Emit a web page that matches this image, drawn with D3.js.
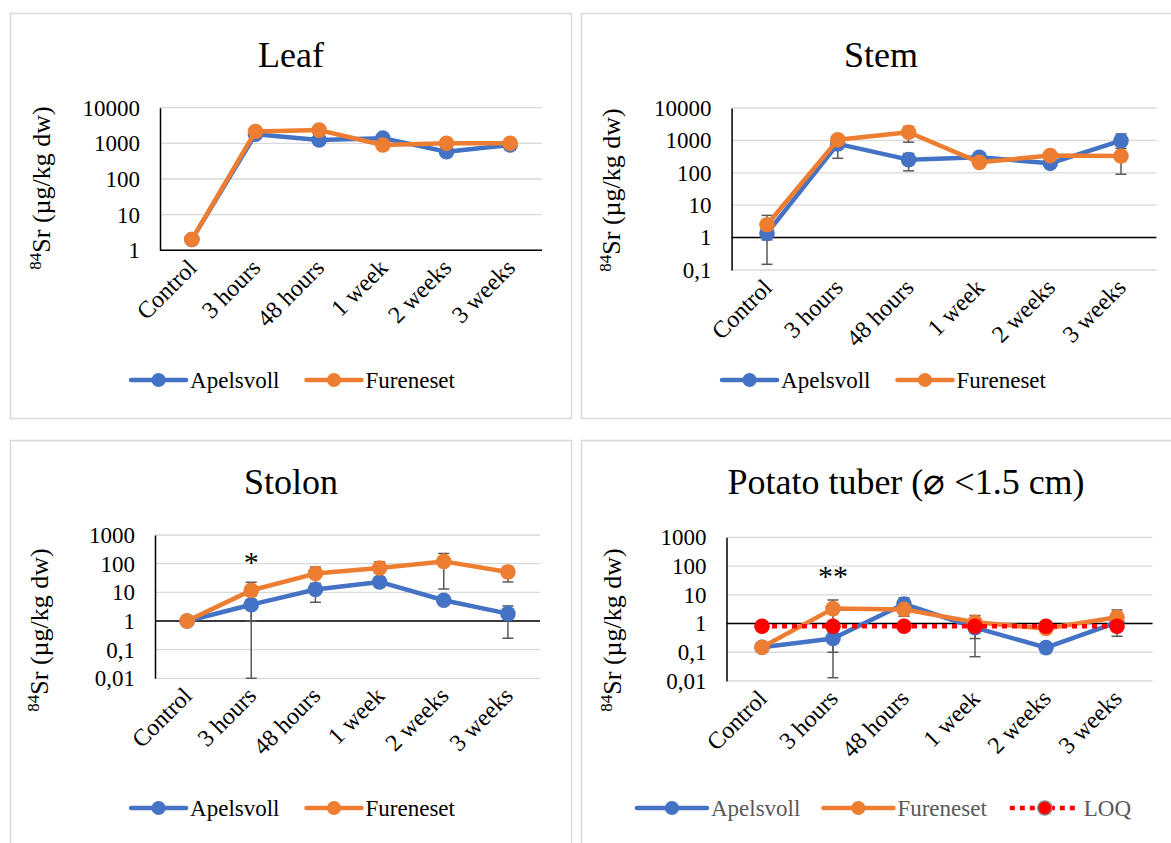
<!DOCTYPE html>
<html>
<head>
<meta charset="utf-8">
<script src="https://cdn.jsdelivr.net/npm/d3@7"></script>
<style>
  body { margin: 0; background: #fff; }
  text { font-family: "Liberation Serif", "Times New Roman", serif; }
</style>
</head>
<body>
<svg id="chart" width="1171" height="843"></svg>
<script>
const categories = ["Control", "3 hours", "48 hours", "1 week", "2 weeks", "3 weeks"];

// Leaf
const leafApelsvoll = [2, 1800, 1250, 1400, 580, 900];
const leafApelsvollErr = [0.2, 150, 150, 200, 80, 150];
const leafFureneset = [2, 2150, 2350, 900, 1000, 1000];
const leafFurenesetErr = [0.2, 200, 300, 100, 150, 330];

// Stem
const stemApelsvoll = [1.35, 780, 255, 300, 196, 980];
const stemApelsvollErr = [0.5, 500, 140, 60, 40, 600];
const stemFureneset = [2.5, 1040, 1780, 210, 340, 330];
const stemFurenesetErr = [2.35, 300, 900, 40, 60, 240];

// Stolon
const stolonApelsvoll = [1, 3.7, 12.5, 23, 5.3, 1.8];
const stolonApelsvollErr = [0, 3.69, 8, 5, 1.5, 1.55];
const stolonFureneset = [1, 11.7, 45, 70, 120, 51];
const stolonFurenesetErr = [0, 10.7, 31, 45, 107, 28];

// Potato tuber
const potatoApelsvoll = [0.15, 0.3, 4.8, 0.72, 0.145, 1.1];
const potatoApelsvollErr = [0.02, 0.2, 3, 0.65, 0.02, 0.3];
const potatoFureneset = [0.15, 3.3, 3.1, 1.1, 0.67, 1.66];
const potatoFurenesetErr = [0.02, 3.287, 0.3, 0.8, 0.1, 1.3];
const potatoLOQ = [0.8, 0.8, 0.8, 0.8, 0.8, 0.8];

const blue = "#4472C4", orange = "#ED7D31", red = "#FF0000", errColor = "#595959";
const svg = d3.select("#chart");
const fmt = v => String(v).replace(".", ",");

function drawPanel(p) {
  const g = svg.append("g");

  g.append("rect")
    .attr("x", p.box[0] + 0.5).attr("y", p.box[1] + 0.5)
    .attr("width", p.box[2]).attr("height", p.box[3])
    .attr("fill", "#fff").attr("stroke", "#d9d9d9").attr("stroke-width", 1.5);

  const x = d3.scalePoint().domain(categories).range([p.left, p.right]).padding(0.5);
  const y = d3.scaleLog().domain(p.domain).range([p.bottom, p.top]);

  const ticks = [];
  for (let e = Math.round(Math.log10(p.domain[0])); e <= Math.round(Math.log10(p.domain[1])); e++) {
    ticks.push(+Math.pow(10, e).toPrecision(1));
  }

  // gridlines
  g.append("g").selectAll("line").data(ticks).join("line")
    .attr("x1", p.left).attr("x2", p.right)
    .attr("y1", d => y(d)).attr("y2", d => y(d))
    .attr("stroke", "#d9d9d9").attr("stroke-width", 1.3);

  // horizontal axis crosses at 1
  g.append("line")
    .attr("x1", p.left).attr("x2", p.right)
    .attr("y1", y(1)).attr("y2", y(1))
    .attr("stroke", "#000").attr("stroke-width", 1.5);

  // y axis
  const yAxis = g.append("g")
    .attr("transform", `translate(${p.left},0)`)
    .call(d3.axisLeft(y).tickValues(ticks).tickFormat(fmt).tickSize(0).tickPadding(p.pad));
  yAxis.select(".domain").attr("stroke", "#000").attr("stroke-width", 1.5);
  yAxis.selectAll("text").attr("font-size", 23).attr("fill", "#000")
    .attr("font-family", "Liberation Serif");

  // x labels at the bottom
  const xAxis = g.append("g")
    .attr("transform", `translate(0,${p.bottom})`)
    .call(d3.axisBottom(x).tickSize(0));
  xAxis.select(".domain").remove();
  xAxis.selectAll("text")
    .attr("font-size", 24).attr("fill", "#000").attr("font-family", "Liberation Serif")
    .attr("text-anchor", "end").attr("y", 0).attr("dy", "0.35em")
    .attr("transform", "translate(0,13) rotate(-45)");

  // error bars
  p.series.forEach(s => {
    if (!s.err) return;
    const eg = g.append("g").attr("stroke", errColor).attr("stroke-width", 1.5);
    s.values.forEach((v, i) => {
      const e = s.err[i];
      if (!e) return;
      const lo = Math.max(v - e, p.domain[0]);
      const hi = v + e;
      const cx = x(categories[i]);
      eg.append("line").attr("x1", cx).attr("x2", cx).attr("y1", y(lo)).attr("y2", y(hi));
      [lo, hi].forEach(b => {
        eg.append("line").attr("x1", cx - 5.5).attr("x2", cx + 5.5).attr("y1", y(b)).attr("y2", y(b));
      });
    });
  });

  // lines and markers
  const line = d3.line().x((d, i) => x(categories[i])).y(d => y(d));
  p.series.forEach(s => {
    g.append("path").datum(s.values)
      .attr("d", line).attr("fill", "none")
      .attr("stroke", s.color).attr("stroke-width", 4.5)
      .attr("stroke-linejoin", "round")
      .attr("stroke-linecap", s.dash ? "butt" : "round")
      .attr("stroke-dasharray", s.dash || null);
    g.append("g").selectAll("circle").data(s.values).join("circle")
      .attr("cx", (d, i) => x(categories[i])).attr("cy", d => y(d))
      .attr("r", 7.8).attr("fill", s.color);
  });

  // significance marks
  (p.marks || []).forEach(m => {
    g.append("text").attr("x", x(m.cat)).attr("y", m.y)
      .attr("text-anchor", "middle").attr("font-size", 30).text(m.text);
  });

  // title
  g.append("text").attr("x", p.titleX).attr("y", p.titleY)
    .attr("text-anchor", "middle").attr("font-size", 36).attr("fill", "#000").text(p.title);

  // y axis title
  const yt = g.append("text")
    .attr("transform", `translate(${p.ytX},${p.ytY}) rotate(-90)`)
    .attr("text-anchor", "middle").attr("font-size", 26).attr("fill", "#000");
  yt.append("tspan").attr("font-size", 17).attr("dy", -9).text("84");
  yt.append("tspan").attr("dy", 9).text("Sr (µg/kg dw)");

  // legend
  const lg = g.append("g");
  const items = p.series.map(s => {
    const ig = lg.append("g");
    const L = p.legendSample;
    ig.append("line").attr("x1", 0).attr("x2", L).attr("y1", 0).attr("y2", 0)
      .attr("stroke", s.color).attr("stroke-width", 4.5)
      .attr("stroke-linecap", s.dash ? "butt" : "round")
      .attr("stroke-dasharray", s.dash || null);
    ig.append("circle").attr("cx", L / 2).attr("cy", 0).attr("r", 7)
      .attr("fill", s.color)
      .attr("stroke", s.dash ? "#888" : "none").attr("stroke-width", 1.5);
    const t = ig.append("text").attr("x", L + 4).attr("y", 0).attr("dy", "0.33em")
      .attr("font-size", 23).attr("fill", p.legendColor).text(s.name);
    return { ig, w: L + 4 + t.node().getComputedTextLength() };
  });
  const total = d3.sum(items, d => d.w) + p.legendGap * (items.length - 1);
  let cx = p.legendX - total / 2;
  items.forEach(it => {
    it.ig.attr("transform", `translate(${cx},${p.legendY})`);
    cx += it.w + p.legendGap;
  });
}

drawPanel({
  box: [10, 13, 561, 405], left: 160, right: 542, top: 107.7, bottom: 250.3,
  domain: [1, 10000], pad: 20, title: "Leaf", titleX: 291, titleY: 67,
  ytX: 50, ytY: 188, legendX: 293, legendY: 380, legendSample: 55, legendGap: 27, legendColor: "#000",
  series: [
    { name: "Apelsvoll", color: blue, values: leafApelsvoll, err: leafApelsvollErr },
    { name: "Fureneset", color: orange, values: leafFureneset, err: leafFurenesetErr }
  ]
});

drawPanel({
  box: [581, 13, 610, 405], left: 731.6, right: 1156.4, top: 108, bottom: 270,
  domain: [0.1, 10000], pad: 20, title: "Stem", titleX: 881, titleY: 67,
  ytX: 620, ytY: 190, legendX: 884, legendY: 380, legendSample: 55, legendGap: 27, legendColor: "#000",
  series: [
    { name: "Apelsvoll", color: blue, values: stemApelsvoll, err: stemApelsvollErr },
    { name: "Fureneset", color: orange, values: stemFureneset, err: stemFurenesetErr }
  ]
});

drawPanel({
  box: [10, 440, 561, 420], left: 155, right: 540, top: 535, bottom: 678.3,
  domain: [0.01, 1000], pad: 20, title: "Stolon", titleX: 291, titleY: 494,
  ytX: 48, ytY: 630, legendX: 293, legendY: 808, legendSample: 55, legendGap: 27, legendColor: "#000",
  marks: [{ cat: "3 hours", y: 572, text: "*" }],
  series: [
    { name: "Apelsvoll", color: blue, values: stolonApelsvoll, err: stolonApelsvollErr },
    { name: "Fureneset", color: orange, values: stolonFureneset, err: stolonFurenesetErr }
  ]
});

drawPanel({
  box: [581, 440, 610, 420], left: 726.5, right: 1152.5, top: 537.3, bottom: 681,
  domain: [0.01, 1000], pad: 20, title: "Potato tuber (\u2300 <1.5 cm)", titleX: 906, titleY: 494,
  ytX: 621, ytY: 630, legendX: 884, legendY: 808, legendSample: 70, legendGap: 23, legendColor: "#595959",
  marks: [{ cat: "3 hours", y: 586, text: "**" }],
  series: [
    { name: "Apelsvoll", color: blue, values: potatoApelsvoll, err: potatoApelsvollErr },
    { name: "Fureneset", color: orange, values: potatoFureneset, err: potatoFurenesetErr },
    { name: "LOQ", color: red, values: potatoLOQ, dash: "5,5" }
  ]
});
</script>
</body>
</html>
